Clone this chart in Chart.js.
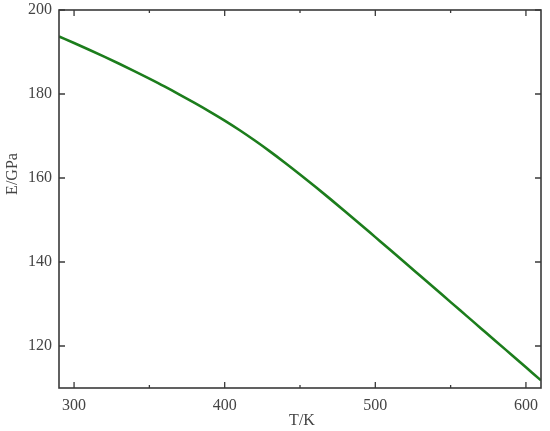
<!DOCTYPE html>
<html>
<head>
<meta charset="utf-8">
<title>E vs T</title>
<script src="https://cdn.jsdelivr.net/npm/chart.js@4"></script>
<style>
  html, body { margin: 0; padding: 0; background: #fff; }
  #wrap { width: 550px; height: 431px; }
</style>
</head>
<body>
<div id="wrap"><canvas id="c"></canvas></div>
<script>
// temperature (K) and Young's modulus (GPa)
const temps = [290, 300, 310, 320, 330, 340, 350, 360, 370, 380, 390, 400, 410, 420, 430, 440, 450,
               460, 470, 480, 490, 500, 510, 520, 530, 540, 550, 560, 570, 580, 590, 600, 610];
const modulus = [193.7, 192.15, 190.55, 188.9, 187.2, 185.45, 183.65, 181.8, 179.87, 177.88, 175.82, 173.67, 171.37,
                 168.92, 166.35, 163.65, 160.85, 157.97, 155.03, 152.04, 149.0, 145.92, 142.84, 139.75, 136.65,
                 133.55, 130.45, 127.35, 124.25, 121.15, 118.04, 114.93, 111.82];
const xMajor = [300, 400, 500, 600];
const xMinor = [350, 450, 550];
const yMajor = [120, 140, 160, 180, 200];

const axisColor = '#3a3a3a';
const textColor = '#444';
const serif = "'Liberation Serif', 'DejaVu Serif', serif";

// inward ticks on all four sides, frame, and axis titles
const framePlugin = {
  id: 'frame',
  afterDraw(chart) {
    const ctx = chart.ctx;
    const a = chart.chartArea;
    const xs = chart.scales.x, ys = chart.scales.y;
    ctx.save();
    ctx.strokeStyle = axisColor;
    ctx.lineWidth = 1.6;
    ctx.strokeRect(a.left, a.top, a.right - a.left, a.bottom - a.top);
    ctx.lineWidth = 1.3;
    ctx.beginPath();
    xMajor.forEach(v => {
      const px = xs.getPixelForValue(v);
      ctx.moveTo(px, a.bottom); ctx.lineTo(px, a.bottom - 6);
      ctx.moveTo(px, a.top); ctx.lineTo(px, a.top + 6);
    });
    xMinor.forEach(v => {
      const px = xs.getPixelForValue(v);
      ctx.moveTo(px, a.bottom); ctx.lineTo(px, a.bottom - 3);
      ctx.moveTo(px, a.top); ctx.lineTo(px, a.top + 3);
    });
    yMajor.forEach(v => {
      const py = ys.getPixelForValue(v);
      ctx.moveTo(a.left, py); ctx.lineTo(a.left + 6, py);
      ctx.moveTo(a.right, py); ctx.lineTo(a.right - 6, py);
    });
    ctx.stroke();

    ctx.fillStyle = textColor;
    ctx.font = "16px " + serif;
    ctx.textAlign = 'center';
    ctx.textBaseline = 'middle';
    ctx.fillText('T/K', (a.left + a.right) / 2 + 2, 421);
    ctx.translate(13, 174);
    ctx.rotate(-Math.PI / 2);
    ctx.fillText('E/GPa', 0, 0);
    ctx.restore();
  }
};

new Chart(document.getElementById('c'), {
  type: 'line',
  data: {
    labels: temps,
    datasets: [{
      data: temps.map((t, i) => ({ x: t, y: modulus[i] })),
      borderColor: '#1c7d1c',
      borderWidth: 2.6,
      pointRadius: 0,
      cubicInterpolationMode: 'monotone',
      fill: false
    }]
  },
  options: {
    responsive: true,
    maintainAspectRatio: false,
    animation: false,
    layout: { padding: { top: 10, right: 9, left: 0, bottom: 0 } },
    plugins: { legend: { display: false }, tooltip: { enabled: false } },
    scales: {
      x: {
        type: 'linear',
        min: 290,
        max: 610,
        grid: { display: false, drawTicks: false },
        border: { display: false },
        ticks: {
          stepSize: 100,
          includeBounds: false,
          padding: 8,
          color: textColor,
          font: { family: serif, size: 16 }
        },
        afterFit(s) { s.height = 43; s.paddingLeft = 0; s.paddingRight = 0; }
      },
      y: {
        min: 110,
        max: 200,
        grid: { display: false, drawTicks: false },
        border: { display: false },
        ticks: {
          stepSize: 20,
          includeBounds: false,
          padding: 7,
          color: textColor,
          font: { family: serif, size: 16 }
        },
        afterFit(s) { s.width = 59; s.paddingTop = 0; s.paddingBottom = 0; }
      }
    }
  },
  plugins: [framePlugin]
});
</script>
</body>
</html>
